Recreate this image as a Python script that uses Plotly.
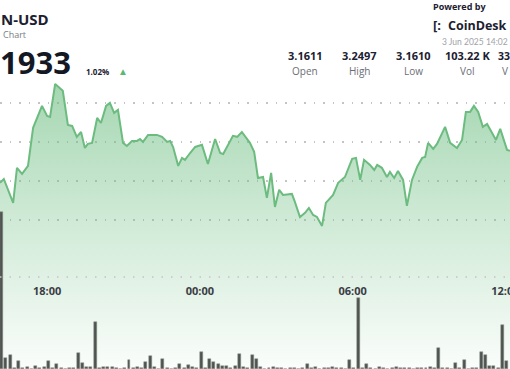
import pandas as pd
import plotly.graph_objects as go

# ---- data ----
base_time = pd.Timestamp("2025-06-02 16:00")

price_minutes = [9, 18, 40, 49, 61, 75, 87, 108, 120, 127, 139, 157, 169, 179, 190, 200, 209, 216, 226, 238,
                 247, 259, 268, 278, 287, 299, 308, 320, 332, 339, 346, 358, 379, 391, 403, 410, 417, 429, 438, 445,
                 457, 469, 485, 499, 516, 528, 535, 551, 558, 568, 579, 598, 608, 617, 629, 638, 648, 657, 667, 676,
                 697, 704, 716, 728, 737, 747, 756, 768, 777, 794, 806, 822, 839, 848, 858, 867, 881, 891, 898, 909,
                 921, 928, 938, 947, 959, 968, 980, 992, 1004, 1011, 1018, 1030, 1039, 1058, 1070, 1086, 1098, 1107, 1117, 1126,
                 1136, 1147, 1157, 1178, 1188, 1204, 1211]

prices = [3.1990, 3.2010, 3.1887, 3.2067, 3.2036, 3.2077, 3.2272, 3.2385, 3.2333, 3.2328, 3.2497, 3.2462, 3.2287, 3.2282, 3.2226, 3.2251, 3.2169, 3.2190, 3.2195, 3.2323,
          3.2297, 3.2385, 3.2400, 3.2349, 3.2364, 3.2195, 3.2179, 3.2205, 3.2205, 3.2215, 3.2200, 3.2236, 3.2236, 3.2226, 3.2200, 3.2205, 3.2174, 3.2077, 3.2118, 3.2108,
          3.2143, 3.2174, 3.2185, 3.2087, 3.2215, 3.2143, 3.2138, 3.2200, 3.2231, 3.2226, 3.2251, 3.2195, 3.2149, 3.2015, 3.2020, 3.1913, 3.2041, 3.1866, 3.1954, 3.1928,
          3.1933, 3.1892, 3.1815, 3.1836, 3.1861, 3.1825, 3.1815, 3.1769, 3.1887, 3.1928, 3.1990, 3.2020, 3.2113, 3.2118, 3.2005, 3.2108, 3.2082, 3.2056, 3.2082, 3.2067,
          3.2020, 3.2046, 3.2015, 3.2051, 3.2005, 3.1872, 3.2005, 3.2072, 3.2118, 3.2123, 3.2195, 3.2164, 3.2190, 3.2277, 3.2195, 3.2169, 3.2210, 3.2354, 3.2354, 3.2385,
          3.2354, 3.2277, 3.2292, 3.2210, 3.2267, 3.2159, 3.2154]

volumes = [157, 11, 14, 1, 8, 1, 2, 0, 3, 1, 2, 8, 1, 5, 1, 0, 1, 1, 16, 6,
           2, 2, 47, 1, 2, 2, 2, 1, 0, 1, 9, 1, 2, 1, 7, 13, 2, 0, 10, 1,
           0, 1, 5, 1, 4, 2, 1, 17, 1, 10, 7, 5, 3, 3, 1, 3, 15, 2, 1, 14,
           10, 2, 0, 1, 2, 1, 1, 0, 1, 1, 0, 1, 5, 1, 2, 0, 1, 1, 2, 1,
           1, 0, 9, 1, 71, 1, 5, 1, 0, 2, 1, 0, 1, 2, 1, 1, 1, 0, 1, 1,
           1, 2, 1, 21, 1, 1, 0, 6, 1, 9, 0, 1, 1, 17, 14, 3, 3, 1, 44, 8]
volume_start = pd.Timestamp("2025-06-02 16:13")

grid_prices = [3.18, 3.20, 3.22, 3.24]
tick_times = ["2025-06-02 18:00", "2025-06-03 00:00", "2025-06-03 06:00", "2025-06-03 12:00"]

stat_values = ["3.1611", "3.2497", "3.1610", "103.22 K"]
stat_labels = ["Open", "High", "Low", "Vol"]

assert len(price_minutes) == len(prices)

price_times = [base_time + pd.Timedelta(minutes=m) for m in price_minutes]
vol_times = pd.date_range(volume_start, periods=len(volumes), freq="10min")

W, H = 510, 369
LINE = "#6cbb7f"

fig = go.Figure()
fig.add_trace(go.Scatter(
    x=price_times, y=prices, mode="lines",
    line=dict(color=LINE, width=2),
    fill="tozeroy",
    fillgradient=dict(type="vertical", start=3.10, stop=3.25,
                      colorscale=[[0, "rgba(120,195,140,0.02)"], [1, "rgba(110,190,130,0.62)"]]),
    yaxis="y", hoverinfo="skip", showlegend=False,
))
fig.add_trace(go.Bar(
    x=vol_times, y=volumes, width=7 * 60 * 1000,
    marker=dict(color="#4f5450", line=dict(color="#8a908b", width=0.5)),
    yaxis="y2", hoverinfo="skip", showlegend=False,
))

def px_x(p):
    return p / W

def px_y(p):
    return 1 - p / H

ann = []
def text(t, x, y, size, color, bold=False, anchor="left", family="Open Sans"):
    ann.append(dict(text=f"<b>{t}</b>" if bold else t, x=px_x(x), y=px_y(y), xref="paper", yref="paper",
                    xanchor=anchor, yanchor="middle", showarrow=False,
                    font=dict(size=size, color=color, family=family)))

text("N-USD", -1, 19, 15, "#1c2030", bold=True)
text("Chart", 1, 34, 9, "#7a7d85")
text("1933", -2, 62, 31, "#141824", bold=True)
text("1.02%", 84, 72, 8, "#1c2030", bold=True)
text("▲", 116, 71, 10, "#5cb870")

text("Powered by", 431, 7, 9, "#1c2030", bold=True)
text("[:", 431, 25, 13, "#1c2030", bold=True)
text("CoinDesk", 446, 25, 12.5, "#1c2030", bold=True)
text("3 Jun 2025 14:02", 440, 42, 8.5, "#a0a3a8", family="Lato")

stat_centers = [305, 359, 413, 467]
for v, l, cx in zip(stat_values, stat_labels, stat_centers):
    text(v, cx, 56, 11, "#1c2030", bold=True, anchor="center")
    text(l, cx, 71, 10, "#6b6e75", anchor="center")
text("33", 496, 56, 10.5, "#1c2030", bold=True)
text("V", 500, 71, 10, "#6b6e75")

fig.update_layout(
    width=W, height=H,
    margin=dict(l=0, r=0, t=0, b=0, autoexpand=False),
    paper_bgcolor="white", plot_bgcolor="white",
    showlegend=False,
    bargap=0,
    xaxis=dict(
        type="date", automargin=False,
        range=[base_time + pd.Timedelta(minutes=9), base_time + pd.Timedelta(minutes=1211)],
        tickvals=tick_times, tickformat="%H:%M",
        showgrid=False, zeroline=False, showline=False,
        anchor="free", position=1 - 277 / H,
        ticks="", ticklabeloverflow="allow", ticklabelstandoff=6,
        tickfont=dict(size=11, color="#3a3d45", family="Open Sans", weight="bold"),
    ),
    yaxis=dict(
        range=[3.1035, 3.2928], domain=[0, 1], automargin=False,
        tickvals=grid_prices, showticklabels=False,
        showgrid=True, gridcolor="#c4c4c4", gridwidth=1.5, griddash="1.5px,8px",
        zeroline=False, showline=False,
    ),
    yaxis2=dict(range=[0, 369], domain=[0, 1], overlaying="y", visible=False),
    shapes=[dict(type="line", xref="paper", yref="paper", x0=0, x1=1,
                 y0=1 - 277 / H, y1=1 - 277 / H,
                 line=dict(color="#c4c4c4", width=1.5, dash="1.5px,8px"))],
    annotations=ann,
)

fig.write_html("out.html", config={"displayModeBar": False},
               post_script="document.body.style.margin='0';document.body.style.overflow='hidden';")
